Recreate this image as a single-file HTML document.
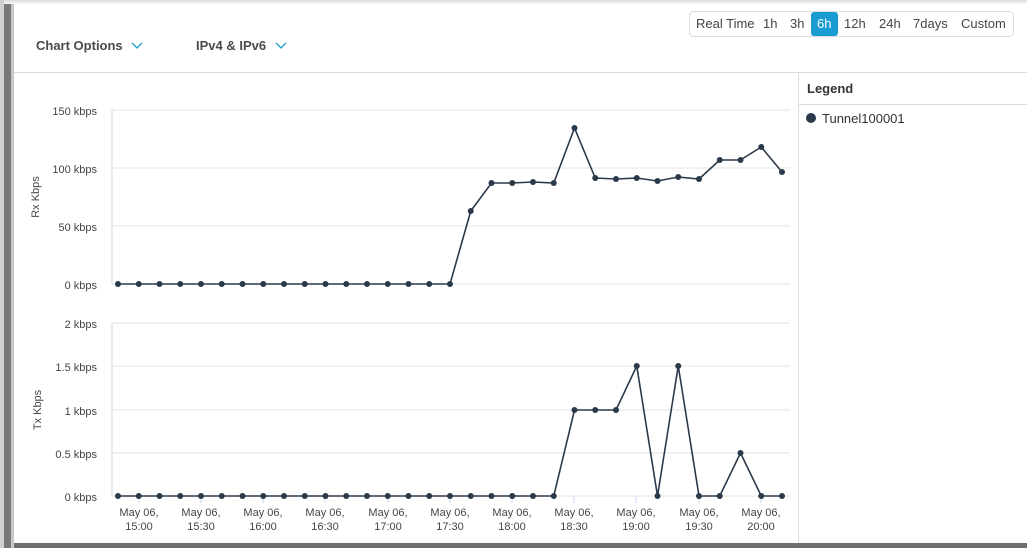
<!DOCTYPE html>
<html><head><meta charset="utf-8"><style>
body{margin:0;width:1027px;height:548px;overflow:hidden;background:#fff;font-family:"Liberation Sans",sans-serif;position:relative}
.a{position:absolute}
</style></head><body>
<div class="a" style="left:0;top:0;width:1027px;height:5px;background:linear-gradient(#ddd,#fff)"></div>
<div class="a" style="left:0;top:0;width:4px;height:548px;background:#d0d0d0"></div>
<div class="a" style="left:4px;top:4px;width:7px;height:544px;background:#757a78"></div>
<div class="a" style="left:11px;top:4px;width:3px;height:544px;background:#c8c8c8"></div>
<div class="a" style="left:14px;top:543px;width:1013px;height:5px;background:#6e6e6e"></div>
<div class="a" style="left:14px;top:72px;width:1013px;height:1px;background:#dcdcdc"></div>
<div class="a" style="left:798px;top:72px;width:1px;height:471px;background:#dcdcdc"></div>
<div class="a" style="left:799px;top:104px;width:228px;height:1px;background:#dcdcdc"></div>
<div class="a" style="left:36px;top:38px;font-size:13px;font-weight:bold;color:#4a4a4a">Chart Options</div>
<div class="a" style="left:196px;top:38px;font-size:13px;font-weight:bold;color:#4a4a4a">IPv4 &amp; IPv6</div>
<svg class="a" style="left:0;top:0" width="1027" height="548">
<polyline points="132,43 137,48 142,43" fill="none" stroke="#1a9bd1" stroke-width="1.3"/>
<polyline points="276,43 281,48 286,43" fill="none" stroke="#1a9bd1" stroke-width="1.3"/>
<rect x="689.5" y="11.5" width="324" height="25" rx="4" fill="#fff" stroke="#ddd"/>
<rect x="811" y="12" width="27" height="24" rx="3" fill="#1a9bd1"/>
<g font-size="13" fill="#444">
<text x="696" y="28">Real Time</text><text x="763" y="28">1h</text><text x="790" y="28">3h</text>
<text x="817" y="28" fill="#fff">6h</text><text x="844" y="28">12h</text><text x="879" y="28">24h</text>
<text x="913" y="28">7days</text><text x="961" y="28">Custom</text>
</g>
<text x="807" y="93" font-size="13" font-weight="bold" fill="#333">Legend</text>
<circle cx="811" cy="118" r="5" fill="#2b3a4a"/>
<text x="822" y="123" font-size="13" fill="#333">Tunnel100001</text>
<g stroke="#e3e3e3" stroke-width="1">
<line x1="112" y1="110" x2="790" y2="110"/><line x1="112" y1="168" x2="790" y2="168"/><line x1="112" y1="226" x2="790" y2="226"/><line x1="112" y1="284" x2="790" y2="284"/>
<line x1="112" y1="323" x2="790" y2="323"/><line x1="112" y1="366" x2="790" y2="366"/><line x1="112" y1="410" x2="790" y2="410"/><line x1="112" y1="453" x2="790" y2="453"/><line x1="112" y1="496" x2="790" y2="496"/>
</g>
<line x1="112" y1="110" x2="112" y2="284" stroke="#ccd6eb"/>
<line x1="112" y1="323" x2="112" y2="496" stroke="#ccd6eb"/>
<g stroke="#ccd6eb"><line x1="139" y1="496" x2="139" y2="503"/><line x1="201" y1="496" x2="201" y2="503"/><line x1="263" y1="496" x2="263" y2="503"/><line x1="325" y1="496" x2="325" y2="503"/><line x1="388" y1="496" x2="388" y2="503"/><line x1="450" y1="496" x2="450" y2="503"/><line x1="512" y1="496" x2="512" y2="503"/><line x1="574" y1="496" x2="574" y2="503"/><line x1="636" y1="496" x2="636" y2="503"/><line x1="699" y1="496" x2="699" y2="503"/><line x1="761" y1="496" x2="761" y2="503"/></g>
<g font-size="11" fill="#444" text-anchor="end">
<text x="97" y="115">150 kbps</text><text x="97" y="173">100 kbps</text><text x="97" y="231">50 kbps</text><text x="97" y="289">0 kbps</text>
<text x="97" y="328">2 kbps</text><text x="97" y="371">1.5 kbps</text><text x="97" y="415">1 kbps</text><text x="97" y="458">0.5 kbps</text><text x="97" y="501">0 kbps</text>
</g>
<text transform="translate(39,197) rotate(-90)" font-size="11" fill="#444" text-anchor="middle">Rx Kbps</text>
<text transform="translate(41,410) rotate(-90)" font-size="11" fill="#444" text-anchor="middle">Tx Kbps</text>
<g font-size="11" fill="#444" text-anchor="middle">
<text x="139" y="516">May 06,</text><text x="139" y="530">15:00</text>
<text x="201" y="516">May 06,</text><text x="201" y="530">15:30</text>
<text x="263" y="516">May 06,</text><text x="263" y="530">16:00</text>
<text x="325" y="516">May 06,</text><text x="325" y="530">16:30</text>
<text x="388" y="516">May 06,</text><text x="388" y="530">17:00</text>
<text x="450" y="516">May 06,</text><text x="450" y="530">17:30</text>
<text x="512" y="516">May 06,</text><text x="512" y="530">18:00</text>
<text x="574" y="516">May 06,</text><text x="574" y="530">18:30</text>
<text x="636" y="516">May 06,</text><text x="636" y="530">19:00</text>
<text x="699" y="516">May 06,</text><text x="699" y="530">19:30</text>
<text x="761" y="516">May 06,</text><text x="761" y="530">20:00</text>
</g>
<polyline fill="none" stroke="#2b3a4a" stroke-width="1.6" points="118,284 450,284 470.75,211 491.5,183 512.25,183 533,182 553.75,183 574.5,128 595.25,178 616,179 636.75,178 657.5,181 678.25,177 699,179 719.75,160 740.5,160 761.25,147 782,172"/>
<polyline fill="none" stroke="#2b3a4a" stroke-width="1.6" points="118,496 553.75,496 574.5,410 595.25,410 616,410 636.75,366 657.5,496 678.25,366 699,496 719.75,496 740.5,453 761.25,496 782,496"/>
<g fill="#2b3a4a">
<circle cx="118" cy="284" r="3"/><circle cx="138.75" cy="284" r="3"/><circle cx="159.5" cy="284" r="3"/><circle cx="180.25" cy="284" r="3"/><circle cx="201" cy="284" r="3"/><circle cx="221.75" cy="284" r="3"/><circle cx="242.5" cy="284" r="3"/><circle cx="263.25" cy="284" r="3"/><circle cx="284" cy="284" r="3"/><circle cx="304.75" cy="284" r="3"/><circle cx="325.5" cy="284" r="3"/><circle cx="346.25" cy="284" r="3"/><circle cx="367" cy="284" r="3"/><circle cx="387.75" cy="284" r="3"/><circle cx="408.5" cy="284" r="3"/><circle cx="429.25" cy="284" r="3"/><circle cx="450" cy="284" r="3"/><circle cx="470.75" cy="211" r="3"/><circle cx="491.5" cy="183" r="3"/><circle cx="512.25" cy="183" r="3"/><circle cx="533" cy="182" r="3"/><circle cx="553.75" cy="183" r="3"/><circle cx="574.5" cy="128" r="3"/><circle cx="595.25" cy="178" r="3"/><circle cx="616" cy="179" r="3"/><circle cx="636.75" cy="178" r="3"/><circle cx="657.5" cy="181" r="3"/><circle cx="678.25" cy="177" r="3"/><circle cx="699" cy="179" r="3"/><circle cx="719.75" cy="160" r="3"/><circle cx="740.5" cy="160" r="3"/><circle cx="761.25" cy="147" r="3"/><circle cx="782" cy="172" r="3"/>
<circle cx="118" cy="496" r="3"/><circle cx="138.75" cy="496" r="3"/><circle cx="159.5" cy="496" r="3"/><circle cx="180.25" cy="496" r="3"/><circle cx="201" cy="496" r="3"/><circle cx="221.75" cy="496" r="3"/><circle cx="242.5" cy="496" r="3"/><circle cx="263.25" cy="496" r="3"/><circle cx="284" cy="496" r="3"/><circle cx="304.75" cy="496" r="3"/><circle cx="325.5" cy="496" r="3"/><circle cx="346.25" cy="496" r="3"/><circle cx="367" cy="496" r="3"/><circle cx="387.75" cy="496" r="3"/><circle cx="408.5" cy="496" r="3"/><circle cx="429.25" cy="496" r="3"/><circle cx="450" cy="496" r="3"/><circle cx="470.75" cy="496" r="3"/><circle cx="491.5" cy="496" r="3"/><circle cx="512.25" cy="496" r="3"/><circle cx="533" cy="496" r="3"/><circle cx="553.75" cy="496" r="3"/><circle cx="574.5" cy="410" r="3"/><circle cx="595.25" cy="410" r="3"/><circle cx="616" cy="410" r="3"/><circle cx="636.75" cy="366" r="3"/><circle cx="657.5" cy="496" r="3"/><circle cx="678.25" cy="366" r="3"/><circle cx="699" cy="496" r="3"/><circle cx="719.75" cy="496" r="3"/><circle cx="740.5" cy="453" r="3"/><circle cx="761.25" cy="496" r="3"/><circle cx="782" cy="496" r="3"/>
</g>
</svg>
</body></html>
